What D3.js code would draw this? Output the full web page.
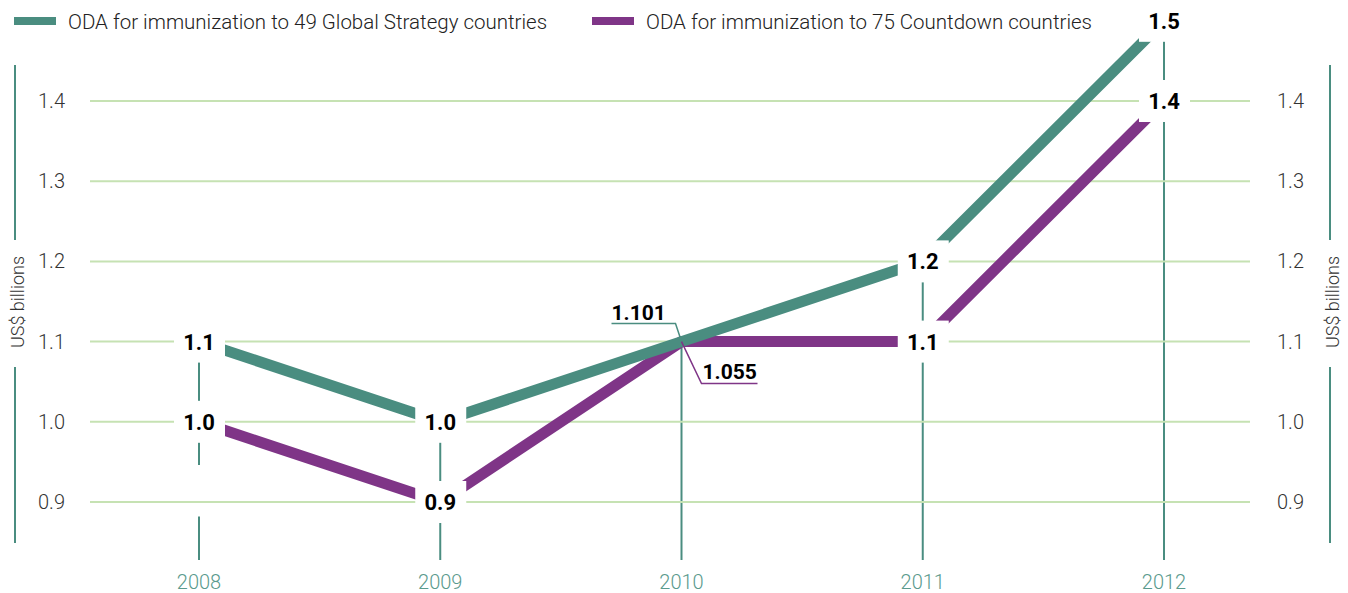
<!DOCTYPE html>
<html>
<head>
<meta charset="utf-8">
<script src="https://cdn.jsdelivr.net/npm/d3@7"></script>
<style>
  body { margin: 0; background: #fff; }
  svg { display: block; font-family: Roboto, "Liberation Sans", sans-serif; }
</style>
</head>
<body>
<div id="chart"></div>
<script>
// data
var years = ["2008", "2009", "2010", "2011", "2012"];
var globalStrategy = [1.1, 1.0, 1.1, 1.2, 1.5];
var countdown = [1.0, 0.9, 1.1, 1.1, 1.4];
var globalLabels = ["1.1", "1.0", "1.101", "1.2", "1.5"];
var countdownLabels = ["1.0", "0.9", "1.055", "1.1", "1.4"];
var yTicks = [0.9, 1.0, 1.1, 1.2, 1.3, 1.4];
var seriesNames = ["ODA for immunization to 49 Global Strategy countries",
                   "ODA for immunization to 75 Countdown countries"];

var green = "#4a8d80", purple = "#7f3587", grid = "#c6e2b3";

var width = 1348, height = 593;

var svg = d3.select("#chart")
  .append("svg")
  .attr("width", width)
  .attr("height", height);

// scales
var x = d3.scalePoint().domain(years).range([199, 1164]);
var y = d3.scaleLinear().domain([0.9, 1.4]).range([502, 101]);

// year stems (2008 stem has a break below the 1.0 label)
var stems = [];
years.forEach(function(yr, i) {
  var top = y(Math.max(globalStrategy[i], countdown[i]));
  if (yr === "2008") {
    stems.push({year: yr, y1: 560, y2: y(0.882)});
    stems.push({year: yr, y1: y(0.946), y2: top});
  } else {
    stems.push({year: yr, y1: 560, y2: top});
  }
});

svg.append("g")
  .selectAll("line")
  .data(stems)
  .enter()
  .append("line")
  .attr("x1", function(d) { return x(d.year); })
  .attr("x2", function(d) { return x(d.year); })
  .attr("y1", function(d) { return d.y1; })
  .attr("y2", function(d) { return d.y2; })
  .attr("stroke", green)
  .attr("stroke-width", 2);

// gridlines
svg.append("g")
  .selectAll("line")
  .data(yTicks)
  .enter()
  .append("line")
  .attr("x1", 90).attr("x2", 1250)
  .attr("y1", function(d) { return y(d); })
  .attr("y2", function(d) { return y(d); })
  .attr("stroke", grid)
  .attr("stroke-width", 2);

// tick labels, both sides
[65, 1304].forEach(function(xx) {
  svg.append("g")
    .selectAll("text")
    .data(yTicks)
    .enter()
    .append("text")
    .attr("x", xx)
    .attr("y", function(d) { return y(d) + 7; })
    .attr("text-anchor", "end")
    .style("font-size", "20px")
    .style("font-weight", 300)
    .style("fill", "#333")
    .text(function(d) { return d3.format(".1f")(d); });
});

// side axis lines with unit text
[{x: 15, t: 18}, {x: 1330, t: 1333}].forEach(function(s) {
  svg.append("line")
    .attr("x1", s.x).attr("x2", s.x).attr("y1", 65).attr("y2", 240)
    .attr("stroke", green).attr("stroke-width", 2);
  svg.append("line")
    .attr("x1", s.x).attr("x2", s.x).attr("y1", 367).attr("y2", 543)
    .attr("stroke", green).attr("stroke-width", 2);
  svg.append("text")
    .attr("transform", "translate(" + (s.t + 6) + ",302) rotate(-90)")
    .attr("text-anchor", "middle")
    .style("font-size", "18px")
    .style("font-weight", 300)
    .style("fill", "#333")
    .text("US$ billions");
});

// year labels
svg.append("g")
  .selectAll("text")
  .data(years)
  .enter()
  .append("text")
  .attr("x", function(d) { return x(d); })
  .attr("y", 589)
  .attr("text-anchor", "middle")
  .style("font-size", "20px")
  .style("font-weight", 300)
  .style("fill", "#5a9a8d")
  .text(function(d) { return d; });

// lines
var line = d3.line()
  .x(function(d) { return x(d.year); })
  .y(function(d) { return y(d.value); });

function toPoints(vals) {
  return years.map(function(yr, i) { return {year: yr, value: vals[i]}; });
}

svg.append("path")
  .datum(toPoints(countdown))
  .attr("fill", "none")
  .attr("stroke", purple)
  .attr("stroke-width", 11)
  .attr("d", line);

svg.append("path")
  .datum(toPoints(globalStrategy))
  .attr("fill", "none")
  .attr("stroke", green)
  .attr("stroke-width", 11)
  .attr("d", line);

// boxed labels (all years except 2010)
var boxed = [];
years.forEach(function(yr, i) {
  if (yr === "2010") return;
  boxed.push({year: yr, value: globalStrategy[i], label: globalLabels[i]});
  boxed.push({year: yr, value: countdown[i], label: countdownLabels[i]});
});

svg.append("g")
  .selectAll("rect")
  .data(boxed)
  .enter()
  .append("rect")
  .attr("x", function(d) { return x(d.year) - 25; })
  .attr("y", function(d) { return y(d.value) - 21; })
  .attr("width", 51)
  .attr("height", 42)
  .attr("fill", "#fff");

svg.append("g")
  .selectAll("text")
  .data(boxed)
  .enter()
  .append("text")
  .attr("x", function(d) { return x(d.year); })
  .attr("y", function(d) { return y(d.value) + 8; })
  .attr("text-anchor", "middle")
  .style("font-size", "22px")
  .style("font-weight", "bold")
  .style("fill", "#000")
  .text(function(d) { return d.label; });

// 2010 leader labels
var i10 = years.indexOf("2010");
var px = x("2010"), pyG = y(globalStrategy[i10]), pyP = y(countdown[i10]);

svg.append("polyline")
  .attr("points", [[px, pyG], [px - 6, pyG - 18], [px - 70, pyG - 18]].join(" "))
  .attr("fill", "none").attr("stroke", green).attr("stroke-width", 1.5);
svg.append("text")
  .attr("x", px - 70).attr("y", pyG - 22)
  .style("font-size", "21px").style("font-weight", "bold")
  .text(globalLabels[i10]);

svg.append("polyline")
  .attr("points", [[px, pyP], [px + 20, pyP + 42], [px + 76, pyP + 42]].join(" "))
  .attr("fill", "none").attr("stroke", purple).attr("stroke-width", 1.5);
svg.append("text")
  .attr("x", px + 21).attr("y", pyP + 37)
  .style("font-size", "21px").style("font-weight", "bold")
  .text(countdownLabels[i10]);

// legend
var legend = svg.append("g");
[{x: 14, c: green}, {x: 592, c: purple}].forEach(function(l, i) {
  legend.append("rect")
    .attr("x", l.x).attr("y", 17).attr("width", 42).attr("height", 8)
    .attr("fill", l.c);
  legend.append("text")
    .attr("x", l.x + 54).attr("y", 29)
    .style("font-size", "20.5px")
    .style("font-weight", 300)
    .style("fill", "#222")
    .text(seriesNames[i]);
});
</script>
</body>
</html>
